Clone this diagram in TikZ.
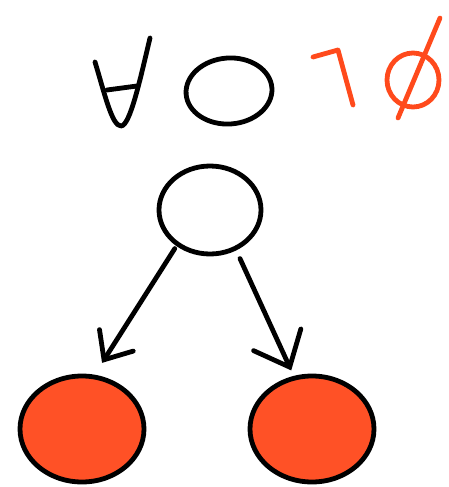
\documentclass[tikz,border=0pt]{standalone}
\usetikzlibrary{arrows.meta,shapes.geometric}
\definecolor{sketchred}{HTML}{FF4A1C}
\definecolor{fillred}{HTML}{FF5126}
\tikzset{
  pen/.style={line width=4.8pt, line cap=round, line join=round, black},
  redpen/.style={line width=4.8pt, line cap=round, line join=round, sketchred},
  blob/.style={ellipse, draw=black, line width=4.8pt, inner sep=0pt},
  conn/.style={pen}
}
\begin{document}
\begin{tikzpicture}[x=1pt,y=-1pt]
\useasboundingbox[fill=white] (0,0) rectangle (449,487);
% top symbols
\draw[pen] (95,62) .. controls (105,95) and (112,126) .. (121,126) .. controls (130,126) and (140,80) .. (150,38);
\draw[pen] (107,90) -- (137,86);
\node[blob, minimum width=86pt, minimum height=66pt, rotate=4] (o) at (229,91) {};
\draw[redpen] (313,57) -- (338,50) -- (353,105);
\draw[redpen] (413,80) ellipse [x radius=26, y radius=27];
\draw[redpen] (440,18) -- (398,118);
% graph
\node[blob, fill=white, minimum width=102pt, minimum height=88pt] (top) at (210,210) {};
\node[blob, fill=fillred, minimum width=124pt, minimum height=106pt] (l) at (82,429) {};
\node[blob, fill=fillred, minimum width=124pt, minimum height=106pt] (r) at (312,429) {};
\draw[conn, -{Straight Barb[length=23pt,width=40pt,line cap=round]}, shorten <=3pt, shorten >=14pt] (top.-133) -- (l.77);
\draw[conn, -{Straight Barb[length=30pt,width=52pt,line cap=round]}, shorten <=9pt, shorten >=6pt] (top.-57) -- (r.109);
\end{tikzpicture}
\end{document}
